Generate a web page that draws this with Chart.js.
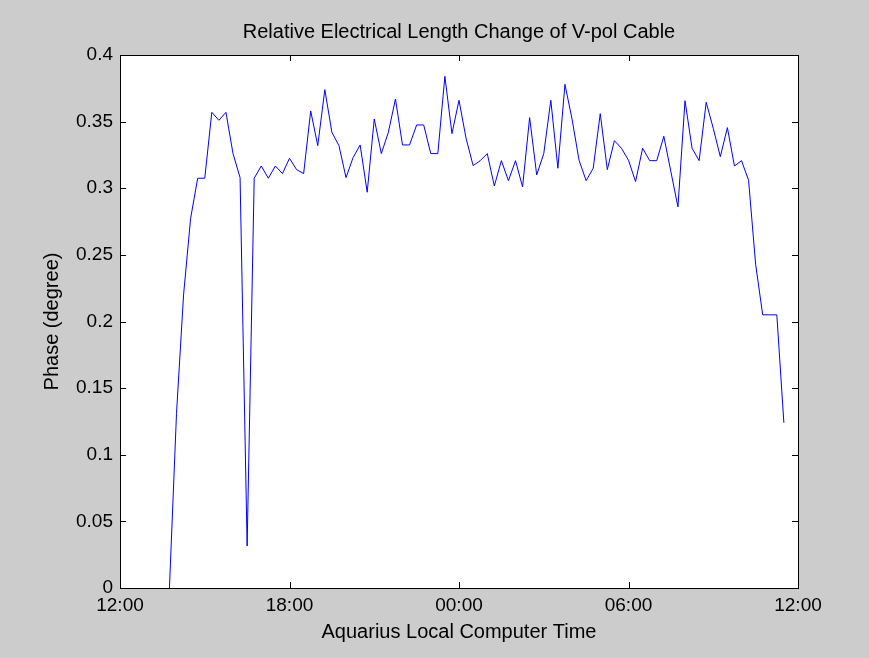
<!DOCTYPE html>
<html>
<head>
<meta charset="utf-8">
<script src="https://cdn.jsdelivr.net/npm/chart.js@4/dist/chart.umd.min.js"></script>
<style>
  html, body { margin: 0; padding: 0; background: #cccccc; }
  canvas { display: block; }
</style>
</head>
<body>
<canvas id="chart" width="869" height="658"></canvas>
<script>
// sample times (local computer clock), one every 15 minutes
const sampleTimes = [
  '13:45', '14:00', '14:15', '14:30', '14:45', '15:00', '15:15', '15:30', '15:45',
  '16:00', '16:15', '16:30', '16:45', '17:00', '17:15', '17:30', '17:45',
  '18:00', '18:15', '18:30', '18:45', '19:00', '19:15', '19:30', '19:45',
  '20:00', '20:15', '20:30', '20:45', '21:00', '21:15', '21:30', '21:45',
  '22:00', '22:15', '22:30', '22:45', '23:00', '23:15', '23:30', '23:45',
  '00:00', '00:15', '00:30', '00:45', '01:00', '01:15', '01:30', '01:45',
  '02:00', '02:15', '02:30', '02:45', '03:00', '03:15', '03:30', '03:45',
  '04:00', '04:15', '04:30', '04:45', '05:00', '05:15', '05:30', '05:45',
  '06:00', '06:15', '06:30', '06:45', '07:00', '07:15', '07:30', '07:45',
  '08:00', '08:15', '08:30', '08:45', '09:00', '09:15', '09:30', '09:45',
  '10:00', '10:15', '10:30', '10:45', '11:00', '11:15', '11:30'
];

// relative phase of the V-pol cable, degrees
const phaseDeg = [
  0.000, 0.131, 0.220, 0.2775, 0.3075, 0.3075, 0.357, 0.351, 0.357,
  0.326, 0.308, 0.0315, 0.3075, 0.3167, 0.3075, 0.3167, 0.311,
  0.3225, 0.314, 0.311, 0.358, 0.332, 0.374, 0.342, 0.332,
  0.308, 0.323, 0.3325, 0.297, 0.352, 0.326, 0.342, 0.367,
  0.3325, 0.3325, 0.3475, 0.3475, 0.326, 0.326, 0.384, 0.341,
  0.366, 0.3375, 0.317, 0.3207, 0.326, 0.3017, 0.3207, 0.3057,
  0.3207, 0.301, 0.353, 0.310, 0.326, 0.366, 0.315, 0.378,
  0.352, 0.321, 0.3057, 0.315, 0.356, 0.314, 0.3357, 0.330,
  0.321, 0.305, 0.330, 0.3207, 0.3207, 0.339, 0.3125, 0.286,
  0.3657, 0.330, 0.3207, 0.3645, 0.345, 0.3237, 0.3455, 0.3167,
  0.3207, 0.306, 0.243, 0.205, 0.205, 0.205, 0.124
];

const xTickLabels = ['12:00', '18:00', '00:00', '06:00', '12:00'];
const yTickLabels = ['0', '0.05', '0.1', '0.15', '0.2', '0.25', '0.3', '0.35', '0.4'];

// hours since 12:00 noon on the first day
const toHours = (t) => {
  let [h, m] = t.split(':').map(Number);
  if (h < 12) h += 24;
  return h - 12 + m / 60;
};

const points = sampleTimes.map((t, i) => ({ x: toHours(t), y: phaseDeg[i] }));

const FAMILY = "'Liberation Sans', Arial, Helvetica, sans-serif";
const TICK_FONT = { family: FAMILY, size: 19, weight: 'normal' };
const TITLE_FONT = { family: FAMILY, size: 20, weight: 'normal' };

// white plot box with inward ticks on all four sides
const axesBox = {
  id: 'axesBox',
  beforeDraw(chart) {
    const { ctx, chartArea: a } = chart;
    ctx.save();
    ctx.fillStyle = '#cccccc';
    ctx.fillRect(0, 0, chart.width, chart.height);
    ctx.fillStyle = '#ffffff';
    ctx.fillRect(a.left, a.top, a.right - a.left, a.bottom - a.top);
    ctx.restore();
  },
  afterDraw(chart) {
    const { ctx, chartArea: a, scales: { x, y } } = chart;
    const len = 6;
    ctx.save();
    ctx.strokeStyle = '#000000';
    ctx.lineWidth = 1;
    ctx.beginPath();
    x.ticks.forEach((t, i) => {
      const px = Math.round(x.getPixelForTick(i)) + 0.5;
      ctx.moveTo(px, a.bottom); ctx.lineTo(px, a.bottom - len);
      ctx.moveTo(px, a.top); ctx.lineTo(px, a.top + len);
    });
    y.ticks.forEach((t, i) => {
      const py = Math.round(y.getPixelForTick(i)) + 0.5;
      ctx.moveTo(a.left, py); ctx.lineTo(a.left + len, py);
      ctx.moveTo(a.right, py); ctx.lineTo(a.right - len, py);
    });
    ctx.stroke();
    ctx.strokeRect(Math.round(a.left) + 0.5, Math.round(a.top) + 0.5,
      Math.round(a.right - a.left), Math.round(a.bottom - a.top));
    ctx.restore();
  }
};

new Chart(document.getElementById('chart'), {
  type: 'line',
  data: {
    datasets: [{
      data: points,
      borderColor: '#0000ff',
      borderWidth: 1,
      pointRadius: 0,
      tension: 0,
      fill: false
    }]
  },
  options: {
    responsive: false,
    animation: false,
    devicePixelRatio: 1,
    layout: { padding: { left: 0, right: 71, top: 0, bottom: 0 } },
    plugins: {
      legend: { display: false },
      tooltip: { enabled: false },
      title: {
        display: true,
        fullSize: false,
        text: 'Relative Electrical Length Change of V-pol Cable',
        color: '#000000',
        font: TITLE_FONT,
        padding: { top: 20, bottom: 11 }
      }
    },
    scales: {
      x: {
        type: 'linear',
        min: 0,
        max: 24,
        grid: { display: false, drawTicks: false },
        border: { display: false },
        ticks: {
          stepSize: 6,
          color: '#000000',
          font: TICK_FONT,
          padding: 6,
          maxRotation: 0,
          callback: (v, i) => xTickLabels[i]
        },
        title: {
          display: true,
          text: 'Aquarius Local Computer Time',
          color: '#000000',
          font: TITLE_FONT,
          padding: { top: 0, bottom: 14 }
        },
        afterFit: (s) => { s.height = 70; }
      },
      y: {
        min: 0,
        max: 0.4,
        grid: { display: false, drawTicks: false },
        border: { display: false },
        ticks: {
          stepSize: 0.05,
          color: '#000000',
          font: TICK_FONT,
          padding: 7,
          callback: (v, i) => yTickLabels[i]
        },
        title: {
          display: true,
          text: 'Phase (degree)',
          color: '#000000',
          font: TITLE_FONT,
          padding: { top: 40, bottom: 0 }
        },
        afterFit: (s) => { s.width = 120; }
      }
    }
  },
  plugins: [axesBox]
});
</script>
</body>
</html>
